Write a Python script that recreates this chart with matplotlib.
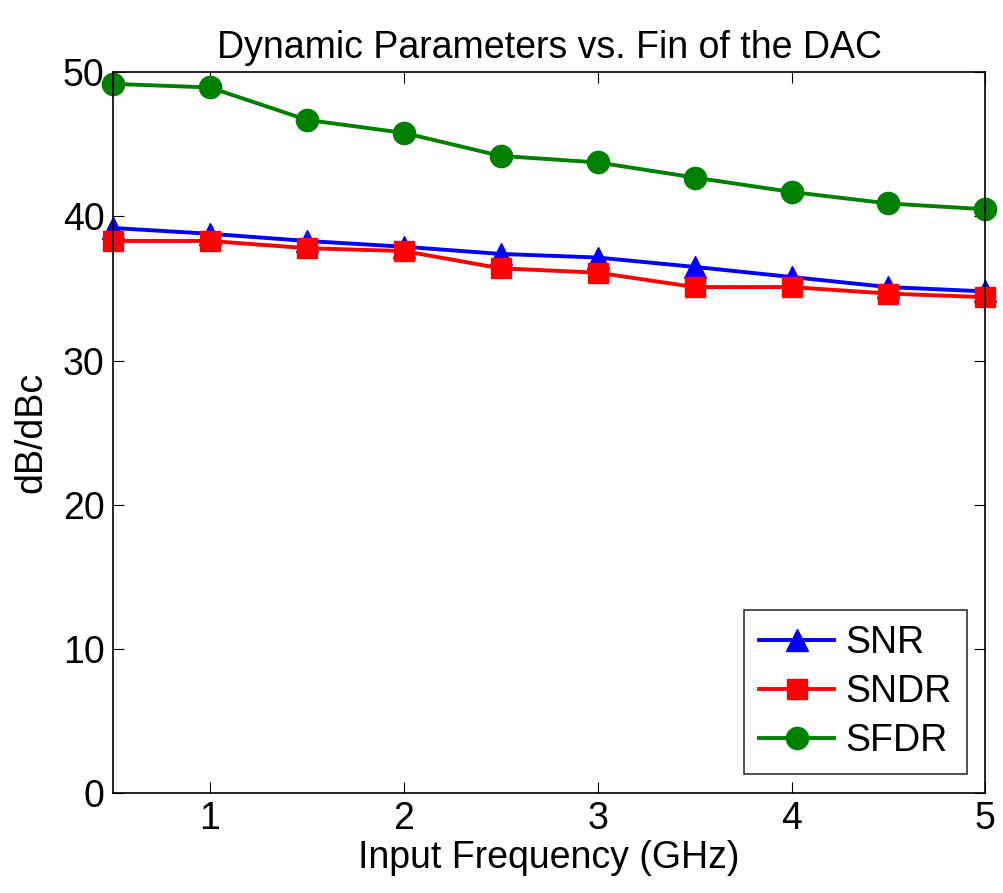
import matplotlib
matplotlib.use("Agg")
import matplotlib.pyplot as plt

freq = [0.5, 1, 1.5, 2, 2.5, 3, 3.5, 4, 4.5, 5]
snr = [39.2, 38.8, 38.3, 37.9, 37.4, 37.15, 36.5, 35.8, 35.1, 34.8]
sndr = [38.3, 38.3, 37.8, 37.6, 36.4, 36.1, 35.1, 35.1, 34.65, 34.4]
sfdr = [49.2, 48.95, 46.7, 45.8, 44.2, 43.75, 42.7, 41.7, 40.9, 40.5]

plt.rcParams['font.family'] = ['Liberation Sans', 'DejaVu Sans']

fig = plt.figure(figsize=(10.04, 8.93), dpi=100)
ax = fig.add_axes([0.1125, 0.112, 0.869, 0.807])

ax.plot(freq, snr, color="blue", lw=2.8, marker="^", ms=16, label="SNR", clip_on=False)
ax.plot(freq, sndr, color="red", lw=2.8, marker="s", ms=14, label="SNDR", clip_on=False)
ax.plot(freq, sfdr, color="green", lw=2.8, marker="o", ms=16, label="SFDR", clip_on=False)

ax.set_xlim(0.5, 5)
ax.set_ylim(0, 50)
ax.set_xticks([1, 2, 3, 4, 5])
ax.set_yticks([0, 10, 20, 30, 40, 50])
ax.tick_params(direction="in", top=True, right=True, labelsize=27, length=8, width=0.8, pad=6)
for s in ax.spines.values():
    s.set_linewidth(1.2)

ax.set_title("Dynamic Parameters vs. Fin of the DAC", fontsize=27, pad=10)
ax.set_xlabel("Input Frequency (GHz)", fontsize=27, labelpad=2)
ax.set_ylabel("dB/dBc", fontsize=27, labelpad=10)

leg = ax.legend(loc="lower right", fontsize=27, fancybox=False, edgecolor="black",
                handlelength=2.0, borderaxespad=0.5, labelspacing=0.35,
                handletextpad=0.3, borderpad=0.4)
leg.get_frame().set_linewidth(1.2)

fig.savefig("out.png", dpi=100, facecolor="white")
